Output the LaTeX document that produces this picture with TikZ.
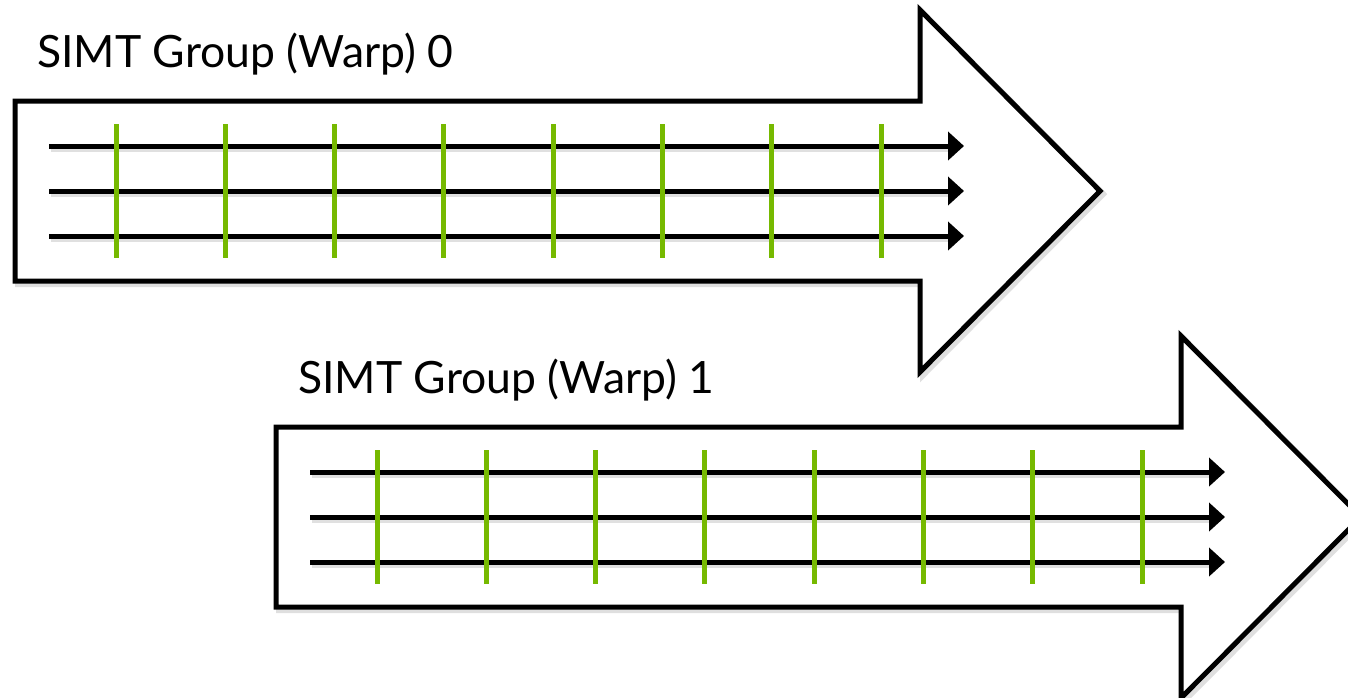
\documentclass[tikz,border=0pt]{standalone}
\usepackage{fontspec}
\setmainfont{Lato}
\usetikzlibrary{arrows.meta,calc}
\definecolor{simtgreen}{HTML}{76B900}
\tikzset{
  outline/.style={draw=black, line width=5pt, line join=miter, fill=white},
  lane/.style={draw=black, line width=5pt, -{Triangle[length=16pt,width=28pt]}},
  tick/.style={draw=simtgreen, line width=5pt},
  shade/.style={draw=black!35, line width=6pt, opacity=0.35},
  grouplabel/.style={anchor=base west, inner sep=0pt, font=\fontsize{44.5}{48}\selectfont}
}
\begin{document}
\begin{tikzpicture}[x=1pt,y=-1pt]
  \useasboundingbox (0,0) rectangle (1348,697);
  \clip (0,0) rectangle (1348,697);
  \fill[white] (0,0) rectangle (1348,697);
  % one block arrow per warp, each carrying three thread lanes and eight step marks
  \foreach \dx/\dy/\w in {0/0/0, 261/326/1} {
    \begin{scope}[shift={(\dx,\dy)}]
      \node[grouplabel] (label\w) at (37,67) {SIMT Group (Warp) \w};
      % soft drop shadow
      \draw[shade] (18,104) -- (923,104) -- (923,13) -- (1103,194) -- (923,375) -- (923,284) -- (18,284) -- cycle;
      \draw[outline] (15,101) -- (920,101) -- (920,10) -- (1100,191) -- (920,372) -- (920,281) -- (15,281) -- cycle;
      \foreach \y/\k in {146/a, 191/b, 236/c} {
        \coordinate (s\w\k) at (49,\y);
        \coordinate (e\w\k) at (964,\y);
        \draw[black!30, line width=5pt, opacity=0.4] ($(s\w\k)+(2,3)$) -- ($(e\w\k)+(-14,3)$);
        \draw[lane] (s\w\k) -- (e\w\k);
      }
      \foreach \i in {0,...,7} {
        \coordinate (t\w\i) at ({116+109.3*\i},124);
        \coordinate (b\w\i) at ({116+109.3*\i},258);
        \draw[tick] (t\w\i) -- (b\w\i);
      }
    \end{scope}
  }
\end{tikzpicture}
\end{document}
